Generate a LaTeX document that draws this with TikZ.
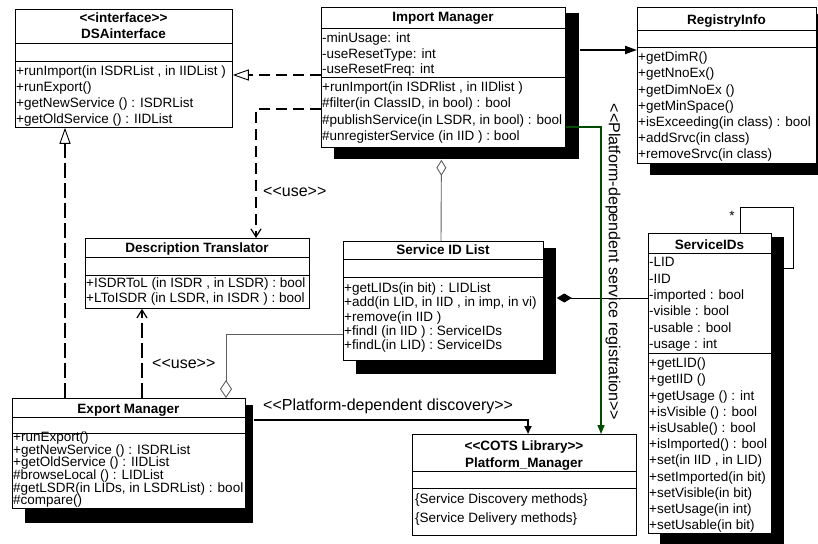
\documentclass[tikz,border=0pt]{standalone}
\usepackage{fontspec}
\setmainfont{Liberation Sans}[Ligatures=TeXOff]
\usetikzlibrary{arrows.meta,calc}
\definecolor{regGreen}{RGB}{0,77,0}
\definecolor{linkGray}{RGB}{95,95,95}
\newcommand\umlfont{\fontsize{13.5}{16}\selectfont}
\newcommand\lblfont{\fontsize{16}{19}\selectfont}

\begin{document}
\begin{tikzpicture}[x=1pt,y=-1pt,
  font=\umlfont,
  classbox/.style={draw=black, line width=0.8pt, fill=white, inner sep=0pt, anchor=north west},
  shadowfill/.style={fill=black},
  row/.style={anchor=base west, inner sep=0pt},
  title/.style={anchor=base, inner sep=0pt, font=\umlfont\bfseries},
  label/.style={anchor=base west, inner sep=0pt, font=\lblfont},
  sep/.style={line width=0.8pt},
  thickdash/.style={line width=2.3pt, dash pattern=on 11pt off 6pt},
  thindash/.style={line width=1.2pt, dash pattern=on 15pt off 5pt},
  aggr/.style={line width=0.9pt, draw=linkGray},
  comp/.style={line width=0.9pt, draw=black},
  navi/.style={line width=2pt, draw=black},
  openTri/.tip={Triangle[open, length=16pt, width=11pt, line width=0.9pt]},
  openBarb/.tip={Straight Barb[length=8pt, width=10pt, line width=1.2pt]},
]
\useasboundingbox (0,0) rectangle (818,543);

% ---------- shadows ----------
\fill[shadowfill] (334,13) rectangle (579,159);   % Import Manager
\fill[shadowfill] (650,14) rectangle (818,175);   % RegistryInfo
\fill[shadowfill] (356,248) rectangle (556,374);  % Service ID List
\fill[shadowfill] (660,237) rectangle (784,546);  % ServiceIDs
\fill[shadowfill] (25,405) rectangle (253,523);   % Export Manager

% ---------- class frames ----------
\node[classbox, minimum width=217pt, minimum height=118pt] (dsa) at (15,9) {};
\node[classbox, minimum width=244pt, minimum height=140pt] (im) at (321,7) {};
\node[classbox, minimum width=179pt, minimum height=156pt] (ri) at (637,7) {};
\node[classbox, minimum width=224pt, minimum height=70pt] (dt) at (85,238) {};
\node[classbox, minimum width=200pt, minimum height=119pt] (sil) at (343,241) {};
\node[classbox, minimum width=123pt, minimum height=300pt] (sids) at (648,233) {};
\node[classbox, minimum width=233pt, minimum height=110pt] (em) at (12,398) {};
\node[classbox, minimum width=224pt, minimum height=101pt] (pm) at (412,434) {};

% ---------- compartment separators ----------
\foreach \n/\ya/\yb in {dsa/43/61, im/28/77, ri/30/47, dt/257/275, sil/259/277,
                        sids/253/353, em/417/433, pm/471/488} {
  \draw[sep] (\n.west |- 0,\ya) -- (\n.east |- 0,\ya);
  \draw[sep] (\n.west |- 0,\yb) -- (\n.east |- 0,\yb);
}

% ---------- DSAinterface ----------
\node[title] (dsa-t1) at (123.5,22.7) {<<interface>>};
\node[title] (dsa-t2) at (123.5,38.7) {DSAinterface};
\foreach \t [count=\i from 0] in {{+runImport(in ISDRList , in IIDList )}, {+runExport()},
    {+getNewService () : ISDRList}, {+getOldService () : IIDList}}
  \node[row] (dsa-m\i) at (16, 75.7+16*\i) {\t};

% ---------- Import Manager ----------
\node[title] (im-t) at (443,21.7) {Import Manager};
\foreach \t [count=\i from 0] in {{-minUsage: int}, {-useResetType: int}, {-useResetFreq: int}}
  \node[row] (im-a\i) at (322, 42.7+15.5*\i) {\t};
\foreach \t [count=\i from 0] in {{+runImport(in ISDRlist , in IIDlist )},
    {\#filter(in ClassID, in bool) : bool}, {\#publishService(in LSDR, in bool) : bool},
    {\#unregisterService (in IID ) : bool}}
  \node[row] (im-m\i) at (322, 91.2+16.5*\i) {\t};

% ---------- RegistryInfo ----------
\node[title] (ri-t) at (726.5,24.7) {RegistryInfo};
\foreach \t [count=\i from 0] in {{+getDimR()}, {+getNnoEx()}, {+getDimNoEx ()}, {+getMinSpace()},
    {+isExceeding(in class) : bool}, {+addSrvc(in class)}, {+removeSrvc(in class)}}
  \node[row] (ri-m\i) at (638, 61.7+16.2*\i) {\t};

% ---------- Description Translator ----------
\node[title] (dt-t) at (197,252.2) {Description Translator};
\foreach \t [count=\i from 0] in {{+ISDRToL (in ISDR , in LSDR) : bool},
    {+LToISDR (in LSDR, in ISDR ) : bool}}
  \node[row] (dt-m\i) at (86, 287.7+14.5*\i) {\t};

% ---------- Service ID List ----------
\node[title] (sil-t) at (443,254.7) {Service ID List};
\foreach \t [count=\i from 0] in {{+getLIDs(in bit) : LIDList}, {+add(in LID, in IID , in imp, in vi)},
    {+remove(in IID )}, {+findI (in IID ) : ServiceIDs}, {+findL(in LID) : ServiceIDs}}
  \node[row] (sil-m\i) at (344, 292.7+14.2*\i) {\t};

% ---------- ServiceIDs ----------
\node[title] (sids-t) at (709.5,249.7) {ServiceIDs};
\foreach \t [count=\i from 0] in {{-LID}, {-IID}, {-imported : bool}, {-visible : bool},
    {-usable : bool}, {-usage : int}}
  \node[row] (sids-a\i) at (649, 266.7+16.4*\i) {\t};
\foreach \t [count=\i from 0] in {{+getLID()}, {+getIID ()}, {+getUsage () : int},
    {+isVisible () : bool}, {+isUsable() : bool}, {+isImported() : bool}, {+set(in IID , in LID)},
    {+setImported(in bit)}, {+setVisible(in bit)}, {+setUsage(in int)}, {+setUsable(in bit)}}
  \node[row] (sids-m\i) at (649, 367.7+16.2*\i) {\t};

% ---------- Export Manager ----------
\node[title] (em-t) at (128.5,413.7) {Export Manager};
\foreach \t [count=\i from 0] in {{+runExport()}, {+getNewService () : ISDRList},
    {+getOldService () : IIDList}, {\#browseLocal () : LIDList},
    {\#getLSDR(in LIDs, in LSDRList) : bool}, {\#compare()}}
  \node[row] (em-m\i) at (13, 441.7+12.6*\i) {\t};

% ---------- Platform_Manager ----------
\node[title] (pm-t1) at (524,450.7) {<<COTS Library>>};
\node[title] (pm-t2) at (524,467.7) {Platform\_Manager};
\node[row] (pm-m0) at (415,503.7) {\{Service Discovery methods\}};
\node[row] (pm-m1) at (415,522.7) {\{Service Delivery methods\}};

% ---------- relations ----------
% realizations of the interface
\draw[thickdash, -openTri] (im.west |- 0,75) -- (dsa.east |- 0,75);
\draw[thindash, -openTri] (em.north -| 65,0) -- (dsa.south -| 65,0);

% use dependencies on the translator
\draw[thickdash, -openBarb] (im.west |- 0,109) -| (dt.north -| 256,0);
\node[label] (use1) at (263,196) {<<use>>};
\draw[thindash, -openBarb] (em.north -| 142,0) -- (dt.south -| 142,0);
\node[label] (use2) at (152,368) {<<use>>};

% aggregations of the ID list
\draw[aggr, -{Diamond[open, length=18pt, width=12pt, line width=0.9pt]}]
  (sil.west |- 0,334) -| (em.north -| 226,0);
\draw[aggr, -{Diamond[open, length=16pt, width=10pt, line width=0.9pt]}]
  (sil.north -| 441,0) -- ($(im.south)+(-2,12)$);

% composition with the ID records
\draw[comp, {Diamond[length=15pt, width=9pt]}-] ($(sil.east |- 0,298)+(13,0)$) -- (sids.west |- 0,298);

% self association of ServiceIDs
\draw[comp] (sids.north -| 740,0) |- (793,207) |- (sids.east |- 0,268);
\node[inner sep=0pt, font=\umlfont] (star) at (732,216) {*};

% navigable links
\draw[navi, -{Triangle[length=12pt, width=8pt]}] ($(im.east |- 0,50)+(14,0)$) -- (ri.west |- 0,50);
\draw[navi, -{Triangle[length=8pt, width=7pt]}] ($(em.east |- 0,420)+(8,0)$) -| (pm.north -| 528,0);
\node[label] (disc) at (263,410) {<<Platform-dependent discovery>>};

\draw[regGreen, line width=1.5pt, -{Triangle[length=9pt, width=7pt]}]
  (im.east |- 0,127) -| (pm.north -| 601,0);
\node[inner sep=0pt, font=\lblfont, rotate=-90] (reg) at (613,262)
  {<<Platform-dependent service registration>>};

\end{tikzpicture}
\end{document}
